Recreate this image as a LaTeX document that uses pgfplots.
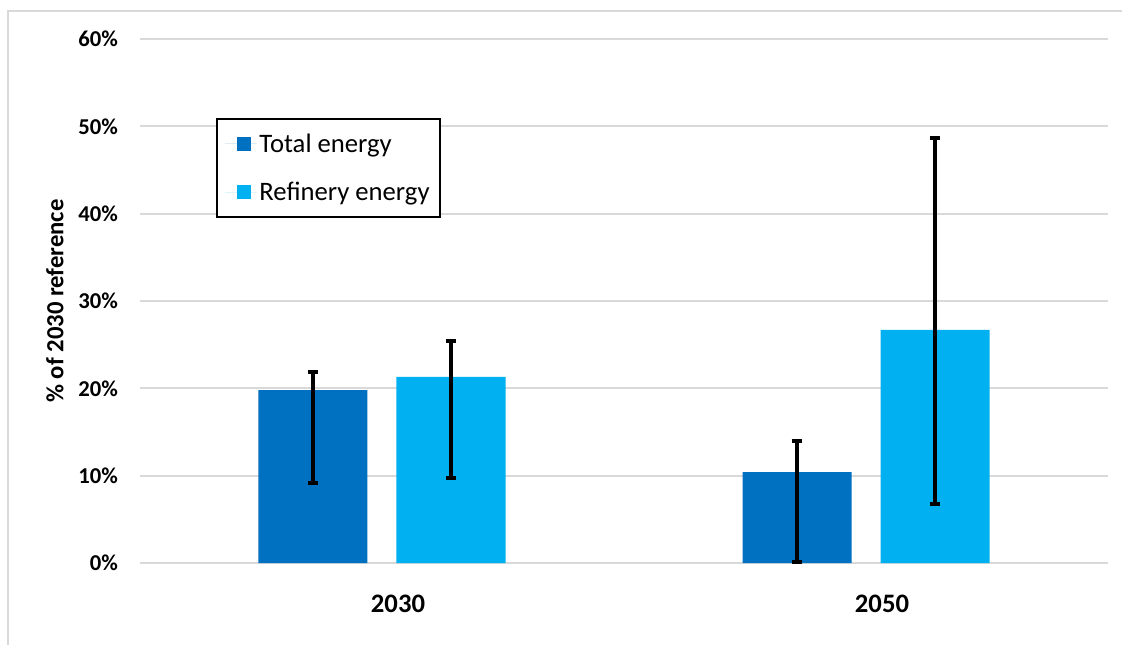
\documentclass[border=0pt]{standalone}
\usepackage{pgfplots}
\pgfplotsset{compat=1.18}
\usepackage{fontspec}
\setmainfont{Carlito}
\definecolor{totalc}{HTML}{0070C0}
\definecolor{refc}{HTML}{00B0F0}
\definecolor{gridc}{HTML}{D9D9D9}
\begin{document}
\begin{tikzpicture}
\useasboundingbox (-105pt,-60.75pt) rectangle (736.5pt,422.25pt);
\fill[white] (-105pt,-60.75pt) rectangle (736.5pt,422.25pt);
\draw[gridc, line width=2pt] (-99pt,-62pt) -- (-99pt,414pt) -- (740pt,414pt);
\begin{axis}[
  at={(0,0)}, anchor=south west,
  scale only axis, width=726pt, height=393pt,
  xmin=-0.5, xmax=1.5, ymin=0, ymax=60,
  ybar=21.75pt, bar width=81.75pt,
  xtick={0,1}, xticklabels={2030,2050},
  ytick={0,10,20,30,40,50,60},
  yticklabel={\pgfmathprintnumber{\tick}\%},
  /pgf/number format/assume math mode=true,
  axis line style={draw=none},
  major tick length=0pt,
  ymajorgrids, grid style={gridc, line width=1.5pt},
  yticklabel style={font=\fontsize{17}{20}\selectfont\bfseries, anchor=east, xshift=-13pt},
  xticklabel style={font=\fontsize{20}{24}\selectfont\bfseries, anchor=center, yshift=-31pt, xshift=12pt},
  ylabel={\% of 2030 reference},
  ylabel style={font=\fontsize{18.5}{21}\selectfont\bfseries, at={(axis description cs:-0.0878,0.5)}, anchor=center},
  legend style={at={(0.0785,0.849)}, anchor=north west, draw=black, line width=1.2pt,
    font=\fontsize{20}{23}\selectfont, inner xsep=6pt, inner ysep=9pt, row sep=17pt},
  legend cell align=left,
  error bars/y dir=both, error bars/y explicit,
  error bars/error mark=-,
  error bars/error bar style={line width=3pt, black},
  error bars/error mark options={rotate=90, line width=3pt, mark size=4pt, black},
]
\addplot[fill=totalc, draw=none,
  legend image code/.code={\fill[totalc] (0pt,-5.25pt) rectangle (10.5pt,5.25pt); \path (-9pt,0pt) -- (15pt,0pt);}]
  coordinates {(0,19.8) += (0,2.07) -= (0,10.64)
               (1,10.42) += (0,3.55) -= (0,10.27)};
\addplot[fill=refc, draw=none,
  legend image code/.code={\fill[refc] (0pt,-5.25pt) rectangle (10.5pt,5.25pt); \path (-9pt,0pt) -- (15pt,0pt);}]
  coordinates {(0,21.3) += (0,4.12) -= (0,11.57)
               (1,26.68) += (0,21.99) -= (0,19.92)};
\legend{Total energy, Refinery energy}
\end{axis}
\end{tikzpicture}
\end{document}
